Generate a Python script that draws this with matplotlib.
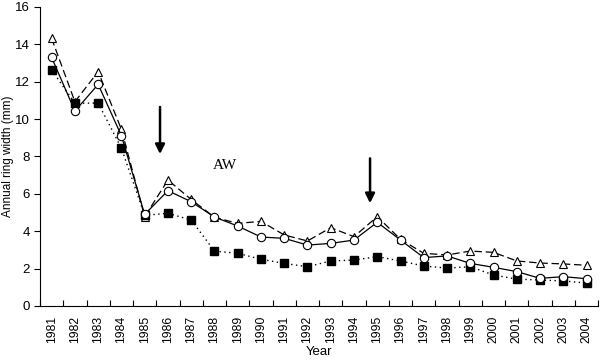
import numpy as np
import matplotlib.pyplot as plt

plt.rcParams['font.family'] = ['Liberation Sans', 'DejaVu Sans']

years = [str(y) for y in range(1981, 2005)]

triangle_vals = [14.32, 10.93, 12.54, 9.45, 4.78, 6.74, 5.70, 4.75, 4.42, 4.53,
                 3.80, 3.48, 4.19, 3.71, 4.78, 3.57, 2.82, 2.73, 2.94, 2.87,
                 2.41, 2.30, 2.25, 2.18]
circle_vals = [13.30, 10.43, 11.86, 9.11, 4.90, 6.17, 5.58, 4.76, 4.28, 3.69,
               3.62, 3.26, 3.35, 3.53, 4.48, 3.53, 2.59, 2.68, 2.28, 2.07,
               1.84, 1.48, 1.57, 1.46]
square_vals = [12.63, 10.85, 10.86, 8.44, 4.85, 4.96, 4.60, 2.94, 2.82, 2.50,
               2.28, 2.10, 2.41, 2.46, 2.64, 2.41, 2.14, 2.03, 2.10, 1.66,
               1.44, 1.39, 1.34, 1.23]

# arrows: (x position in category units, tail y, head y)
arrows = [(4.66, 10.65, 8.13), (13.69, 7.9, 5.5)]


def draw_chart():
    fig = plt.figure(figsize=(6.0, 3.62), dpi=100)
    ax = fig.add_axes([0.0667, 0.1547, 0.9303, 0.826])
    x = np.arange(len(years))

    ax.plot(x, triangle_vals, color="black", lw=0.9, ls=(0, (6, 3)),
            marker="^", ms=6, mfc="white", mec="black", mew=0.8)
    ax.plot(x, square_vals, color="black", lw=1.0, ls=(0, (1, 2.5)),
            marker="s", ms=5.5, mfc="black", mec="black")
    ax.plot(x, circle_vals, color="black", lw=0.9, ls="-",
            marker="o", ms=6, mfc="white", mec="black", mew=0.8)

    for ax_x, y0, y1 in arrows:
        ax.annotate("", xy=(ax_x, y1), xytext=(ax_x, y0),
                    arrowprops=dict(arrowstyle="-|>", color="black", lw=1.8,
                                    mutation_scale=14, shrinkA=0, shrinkB=0))

    ax.text(6.94, 7.54, "AW", family="Liberation Serif", fontsize=11,
            ha="left", va="center")

    ax.set_xlim(-0.5, len(years) - 0.5)
    ax.set_ylim(0, 16)
    ax.set_yticks(range(0, 17, 2))
    ax.set_xticks(x)
    ax.set_xticklabels(years, rotation=90, fontsize=8.8)
    ax.set_xticks(np.arange(-0.5, len(years), 1.0), minor=True)
    ax.tick_params(axis="x", which="major", length=0, pad=7)
    ax.tick_params(axis="x", which="minor", direction="in", length=4, width=0.8)
    ax.tick_params(axis="y", direction="out", length=4, width=0.8, labelsize=9.5)
    for s in ["top", "right"]:
        ax.spines[s].set_visible(False)
    for s in ["left", "bottom"]:
        ax.spines[s].set_linewidth(0.8)
    ax.set_xlabel("Year", fontsize=9.5)
    ax.set_ylabel("Annual ring width (mm)", fontsize=8.5)
    ax.xaxis.set_label_coords(0.5, -0.155)
    ax.xaxis.label.set_verticalalignment("center")
    ax.yaxis.set_label_coords(-0.058, 0.5)
    ax.yaxis.label.set_verticalalignment("center")
    fig.savefig("out.png", dpi=100)


if __name__ == "__main__":
    draw_chart()
